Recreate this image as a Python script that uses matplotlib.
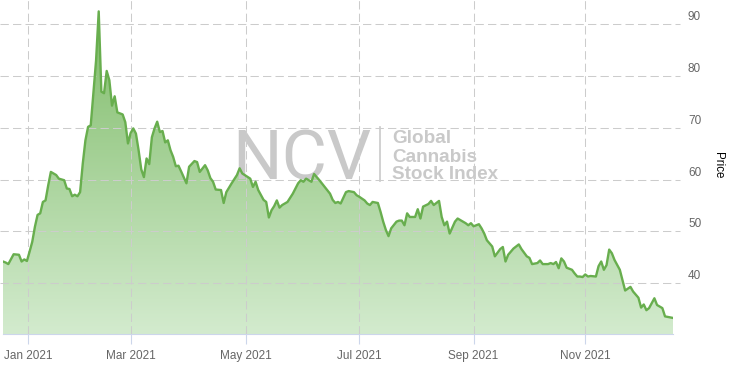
import numpy as np
import pandas as pd
import matplotlib
matplotlib.use('Agg')
import matplotlib.pyplot as plt
from matplotlib import transforms
from matplotlib.colors import LinearSegmentedColormap

# trading sessions (NYSE calendar), x axis is ordinal like a stock chart
holidays = ['2020-12-25', '2021-01-01', '2021-01-18', '2021-02-15', '2021-04-02',
            '2021-05-31', '2021-07-05', '2021-09-06', '2021-11-25']
sessions = pd.bdate_range('2020-12-17', '2021-12-17', freq='C', holidays=holidays)

# session number -> index price
session = [0, 1, 2, 4, 6, 7, 8, 9, 10, 11, 12, 13, 14, 15, 16, 17, 18, 19, 20, 21,
           23, 24, 25, 26, 27, 28, 29, 30, 31, 32, 33, 34, 35, 36, 37, 38, 39, 40, 41, 42,
           43, 45, 46, 47, 48, 49, 50, 51, 52, 53, 54, 55, 56, 57, 58, 59, 60, 61, 62, 63,
           64, 65, 66, 67, 69, 70, 72, 73, 74, 76, 77, 78, 79, 80, 82, 83, 84, 86, 88, 89,
           90, 93, 94, 95, 96, 98, 99, 100, 101, 102, 103, 104, 105, 107, 109, 111, 112, 113, 114, 116,
           117, 118, 119, 121, 123, 124, 125, 126, 127, 129, 130, 132, 133, 134, 136, 137, 138, 139, 141, 142,
           143, 144, 145, 146, 148, 149, 150, 151, 152, 153, 155, 156, 157, 158, 160, 161, 162, 164, 165, 166,
           167, 168, 170, 171, 173, 174, 175, 176, 177, 179, 180, 181, 182, 184, 185, 187, 188, 189, 190, 192,
           194, 195, 197, 198, 199, 201, 202, 203, 205, 206, 207, 208, 209, 210, 211, 212, 214, 215, 216, 217,
           218, 219, 220, 221, 223, 224, 225, 226, 227, 228, 229, 230, 232, 233, 234, 236, 237, 239, 240, 241,
           242, 243, 245, 246, 248, 249, 251, 252]
price = [44.2, 44.0, 43.7, 45.6, 45.5, 44.2, 44.6, 44.3, 46.1, 48.0, 50.9, 53.2, 53.5, 55.7, 56.0, 58.9, 61.5, 61.2, 60.9, 60.2,
         59.9, 58.3, 58.2, 56.8, 57.1, 56.8, 57.6, 63.1, 67.6, 70.2, 70.5, 76.7, 83.0, 92.5, 77.0, 76.7, 81.0, 79.2, 74.3, 76.1,
         73.0, 72.6, 71.1, 67.0, 69.0, 69.9, 68.9, 65.7, 62.0, 60.5, 64.1, 63.0, 68.2, 69.9, 71.2, 69.2, 69.4, 67.2, 67.6, 65.7,
         64.4, 62.6, 62.7, 61.6, 59.3, 62.5, 63.6, 63.4, 61.5, 62.8, 61.8, 60.3, 59.6, 58.1, 58.0, 55.5, 57.6, 59.3, 60.9, 62.2,
         61.2, 60.2, 58.6, 59.6, 58.0, 56.1, 55.7, 52.7, 54.1, 54.9, 56.0, 54.6, 55.1, 55.7, 57.3, 59.3, 59.9, 59.6, 60.2, 59.6,
         61.1, 60.5, 59.9, 58.6, 57.3, 56.1, 55.5, 55.7, 55.4, 57.6, 57.8, 57.6, 57.0, 56.7, 56.0, 55.4, 55.1, 55.7, 55.5, 53.8,
         51.9, 50.3, 49.1, 50.6, 51.9, 52.1, 52.1, 51.2, 53.5, 52.8, 52.8, 54.3, 52.5, 54.8, 55.3, 55.9, 55.1, 55.9, 52.8, 51.2,
         51.9, 49.6, 51.9, 52.5, 51.9, 51.6, 51.2, 51.6, 51.0, 51.4, 50.6, 49.6, 48.3, 47.1, 45.2, 46.6, 47.0, 44.2, 45.5, 46.7,
         47.5, 46.6, 45.2, 44.9, 43.7, 43.9, 44.4, 43.7, 43.7, 43.9, 43.7, 44.1, 42.9, 44.8, 44.2, 43.0, 42.6, 41.9, 41.3, 41.3,
         41.2, 41.7, 41.3, 41.4, 41.3, 43.3, 44.2, 42.6, 43.5, 46.5, 45.8, 44.5, 42.6, 40.6, 38.6, 39.3, 38.4, 37.2, 35.3, 35.9,
         34.8, 35.2, 37.1, 35.8, 35.2, 33.6, 33.4, 33.3]

tick_months = ['2021-01-01', '2021-03-01', '2021-05-01', '2021-07-01', '2021-09-01', '2021-11-01']
y_ticks = [40, 50, 60, 70, 80, 90]

plt.rcParams['font.family'] = ['Liberation Sans', 'DejaVu Sans']

LINE = '#68ae4e'
GRID = '#cccccc'
AXIS = '#ccd6eb'
LABEL = '#666666'
Y_MIN, Y_MAX = 30.2, 94.7

fig = plt.figure(figsize=(7.31, 3.65), dpi=100)
ax = fig.add_axes([3 / 731, 31 / 365, 670 / 731, 334 / 365])

# gradient area under the line
cmap = LinearSegmentedColormap.from_list('area', ['#d3ebce', '#7cba65'])
grad = np.linspace(0, 1, 256).reshape(-1, 1)
im = ax.imshow(grad, extent=[session[0], session[-1], Y_MIN, Y_MAX], origin='lower',
               aspect='auto', cmap=cmap, zorder=1)
poly = ax.fill_between(session, price, Y_MIN, color='none', lw=0)
im.set_clip_path(poly.get_paths()[0], transform=ax.transData)

ax.plot(session, price, color=LINE, lw=1.7, zorder=3, solid_joinstyle='round')

ax.set_xlim(session[0], session[-1])
ax.set_ylim(Y_MIN, Y_MAX)

# x ticks at month starts on the ordinal axis
tick_pos, tick_lab = [], []
for m in tick_months:
    ts = pd.Timestamp(m)
    j = sessions.searchsorted(ts)
    tick_pos.append(j if sessions[j] == ts else j - 0.5)
    tick_lab.append(ts.strftime('%b %Y'))
ax.set_xticks(tick_pos, tick_lab)
ax.set_yticks([])
ax.tick_params(axis='x', length=7.2, width=0.8, color=AXIS, labelcolor=LABEL,
               labelsize=8.5, pad=4)

for s in ['top', 'right', 'left']:
    ax.spines[s].set_visible(False)
ax.spines['bottom'].set_color(AXIS)
ax.spines['bottom'].set_linewidth(0.8)

# dashed grid
for v in y_ticks:
    ax.axhline(v, xmin=-0.005, xmax=1.011, clip_on=False, color=GRID, lw=0.75,
               ls=(0, (8, 4)), zorder=2)
for p in tick_pos:
    ax.axvline(p, color=GRID, lw=0.75, ls=(0, (8, 4)), zorder=2)

# right-hand y labels, sitting a little above their grid lines
ytrans = transforms.offset_copy(ax.get_yaxis_transform(), fig=fig, x=15, y=7, units='dots')
for v in y_ticks:
    ax.text(1, v, str(v), transform=ytrans, ha='left', va='center', fontsize=8.5, color=LABEL)

fig.text(718 / 731, 1 - 165 / 365, 'Price', rotation=270, ha='center', va='center',
         fontsize=8.3, color='black')

# watermark
WM = '#c9c9c9'
ax.text(232 / 731, 1 - 180 / 365, 'NCV', transform=fig.transFigure, ha='left', va='baseline',
        fontsize=50, color=WM, family='Roboto', fontweight='normal', zorder=1.5)
ax.plot([380 / 731, 380 / 731], [1 - 127 / 365, 1 - 181 / 365], transform=fig.transFigure,
        color=WM, lw=1.2, zorder=1.5, clip_on=False)
for txt, base in [('Global', 143), ('Cannabis', 161.5), ('Stock Index', 179.5)]:
    ax.text(392 / 731, 1 - base / 365, txt, transform=fig.transFigure, ha='left', va='baseline',
            fontsize=13.6, color=WM, fontweight='bold', zorder=1.5)

fig.savefig('out.png', dpi=100)
